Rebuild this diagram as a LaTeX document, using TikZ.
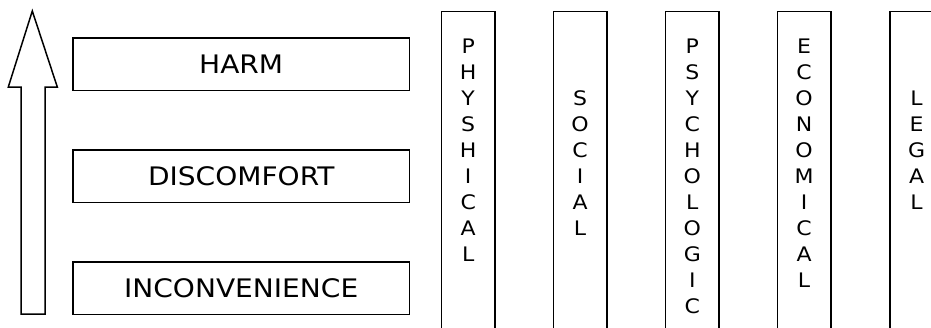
\documentclass[tikz,border=0pt]{standalone}
\usepackage{fontspec}
\setmainfont{DejaVu Sans}[FakeStretch=1.1]
\begin{document}
\begin{tikzpicture}[x=1pt,y=-1pt,line width=1.5pt,
  level/.style={draw, minimum width=336.3pt, minimum height=52.7pt, inner sep=0pt, font=\fontsize{25.5}{30}\selectfont},
  col/.style={draw, minimum width=53.5pt, minimum height=340pt, anchor=north west, inner sep=0pt},
  colt/.style={anchor=north, align=center, inner sep=0pt, font=\fontsize{20}{26}\selectfont}]
\useasboundingbox (0,0) rectangle (931,327);
\clip (0,0) rectangle (931,327);
% upward arrow
\draw[line join=miter] (21,314) -- (45,314) -- (45,87) -- (57.3,87) -- (32.3,11) -- (8.3,87) -- (21,87) -- cycle;
% levels
\node[level] (harm) at (241.2,64.2) {HARM};
\node[level] (disc) at (241.2,176.3) {DISCOMFORT};
\node[level] (inco) at (241.2,288.2) {INCONVENIENCE};
% columns
\node[col] (c1) at (440.7,10.7) {};
\node[col] (c2) at (552.6,10.7) {};
\node[col] (c3) at (664.8,10.7) {};
\node[col] (c4) at (776.6,10.7) {};
\node[col] (c5) at (889.1,10.7) {};
\node[colt] (t1) at (c1.north |- 0,37.7) {P\\H\\Y\\S\\H\\I\\C\\A\\L};
\node[colt] (t2) at (c2.north |- 0,89.7) {S\\O\\C\\I\\A\\L};
\node[colt] (t3) at (c3.north |- 0,37.7) {P\\S\\Y\\C\\H\\O\\L\\O\\G\\I\\C};
\node[colt] (t4) at (c4.north |- 0,37.7) {E\\C\\O\\N\\O\\M\\I\\C\\A\\L};
\node[colt] (t5) at (c5.north |- 0,89.7) {L\\E\\G\\A\\L};
\end{tikzpicture}
\end{document}
